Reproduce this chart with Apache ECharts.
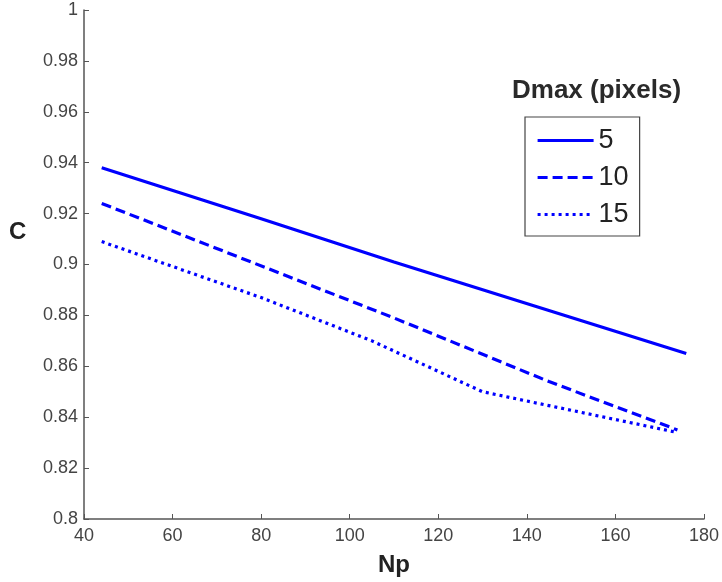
<!DOCTYPE html>
<html>
<head>
<meta charset="utf-8">
<script src="https://cdn.jsdelivr.net/npm/echarts@6/dist/echarts.min.js"></script>
<style>
  html, body { margin: 0; padding: 0; background: #fff; }
  #chart { width: 722px; height: 582px; }
</style>
</head>
<body>
<div id="chart"></div>
<script>
// Correlation C versus number of particles Np, for three Dmax settings
const seriesNames = ['5', '10', '15'];
const npD5 = [44, 80, 110, 132, 176];
const cD5 = [0.938, 0.918, 0.901, 0.889, 0.865];
const npD10 = [44, 88, 110, 145, 174];
const cD10 = [0.924, 0.894, 0.879, 0.854, 0.835];
const npD15 = [44, 80, 105, 130, 174];
const cD15 = [0.909, 0.887, 0.870, 0.850, 0.834];
const xTicks = { min: 40, max: 180, step: 20 };
const yTicks = { min: 0.8, max: 1, step: 0.02 };

const pairs = (xs, ys) => xs.map((x, i) => [x, ys[i]]);
const font = 'Liberation Sans, Arial, sans-serif';
const blue = '#0000ff';

const chart = echarts.init(document.getElementById('chart'), null, { renderer: 'canvas' });
chart.setOption({
  backgroundColor: '#ffffff',
  animation: false,
  title: [
    {
      text: 'Dmax (pixels)',
      left: 512,
      top: 78,
      padding: 0,
      textStyle: { fontFamily: font, fontSize: 26, fontWeight: 'bold', color: '#2a2a2a' }
    },
    {
      text: 'C',
      left: 9,
      top: 220,
      padding: 0,
      textStyle: { fontFamily: font, fontSize: 24, fontWeight: 'bold', color: '#222' }
    }
  ],
  legend: {
    orient: 'vertical',
    left: 525,
    top: 117,
    itemWidth: 56,
    itemHeight: 14,
    itemGap: 10,
    padding: [10, 11, 8, 11],
    borderColor: '#444',
    borderWidth: 1.2,
    backgroundColor: '#fff',
    itemStyle: { opacity: 0 },
    lineStyle: { width: 3.2 },
    textStyle: { fontFamily: font, fontSize: 27, color: '#222' },
    data: seriesNames
  },
  grid: { left: 84, right: 17, top: 10, bottom: 53, containLabel: false },
  xAxis: {
    type: 'value',
    min: xTicks.min,
    max: xTicks.max,
    interval: xTicks.step,
    name: 'Np',
    nameLocation: 'middle',
    nameGap: 34,
    nameTextStyle: { fontFamily: font, fontSize: 24, fontWeight: 'bold', color: '#222' },
    axisLine: { lineStyle: { color: '#555', width: 1.5 } },
    axisTick: { inside: true, length: 5, lineStyle: { color: '#555' } },
    axisLabel: { fontFamily: font, fontSize: 18, color: '#444', margin: 8 },
    splitLine: { show: false }
  },
  yAxis: {
    type: 'value',
    min: yTicks.min,
    max: yTicks.max,
    interval: yTicks.step,
    axisLine: { show: true, lineStyle: { color: '#555', width: 1.5 } },
    axisTick: { show: true, inside: true, length: 5, lineStyle: { color: '#555' } },
    axisLabel: { fontFamily: font, fontSize: 18, color: '#444', margin: 6 },
    splitLine: { show: false }
  },
  series: [
    {
      name: seriesNames[0], type: 'line', showSymbol: false, symbol: 'none',
      data: pairs(npD5, cD5),
      lineStyle: { color: blue, width: 3.2, type: 'solid' },
      itemStyle: { color: blue }
    },
    {
      name: seriesNames[1], type: 'line', showSymbol: false, symbol: 'none',
      data: pairs(npD10, cD10),
      lineStyle: { color: blue, width: 3.2, type: [10, 5] },
      itemStyle: { color: blue }
    },
    {
      name: seriesNames[2], type: 'line', showSymbol: false, symbol: 'none',
      data: pairs(npD15, cD15),
      lineStyle: { color: blue, width: 3.2, type: [3, 4] },
      itemStyle: { color: blue }
    }
  ]
});
</script>
</body>
</html>
